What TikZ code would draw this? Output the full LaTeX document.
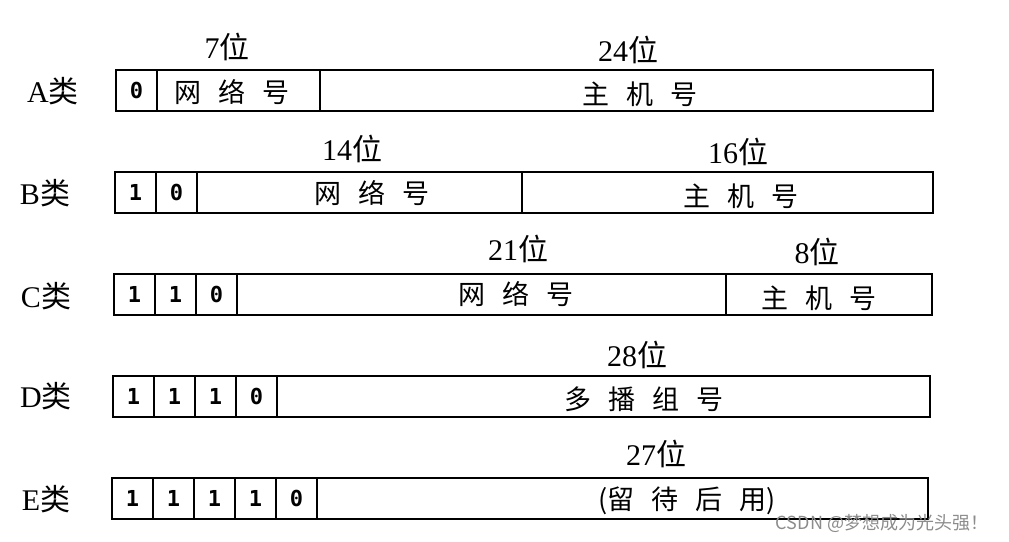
\documentclass[tikz,border=0pt]{standalone}
\usepackage{fontspec}
\usepackage{tikz}
\setmainfont{Liberation Serif}
\newfontfamily\cjk{Noto Sans CJK SC}
\newfontfamily\bitfont{DejaVu Sans Mono}
\newcommand{\lei}{{\cjk 类}}
\newcommand{\wei}{{\cjk 位}}
\newcommand{\cjkgap}{\hspace{0.62em}}
\tikzset{cell/.style={draw,line width=0.9pt,inner sep=0pt,outer sep=0pt,minimum height=20.5pt},
bit/.style={cell,minimum width=20.5pt,font=\bitfont\bfseries\fontsize{11}{12}\selectfont},
field/.style={cell,minimum width=#1},
fieldtext/.style={inner sep=0pt,font=\cjk\fontsize{13.5}{15}\selectfont},
cls/.style={inner sep=0pt,font=\fontsize{15}{18}\selectfont},
width/.style={inner sep=0pt,font=\fontsize{15}{18}\selectfont},
wm/.style={inner sep=0pt,text=black!45,font=\cjk\fontsize{9}{10}\selectfont}}

\begin{document}
\begin{tikzpicture}[x=0.5pt,y=-0.5pt]
\useasboundingbox (0,0) rectangle (1009,542);
% A
\node[cls] (clsA) at (53,91) {A\lei};
\node[bit] (a1) at (136.5,90.5) {0};
\node[field=81.5pt] (anet) at (238.5,90.5) {};
\node[field=306.5pt] (ahost) at (626.5,90.5) {};
\node[fieldtext] (anettxt) at (232,92) {网\cjkgap 络\cjkgap 号};
\node[fieldtext] (ahosttxt) at (640,94) {主\cjkgap 机\cjkgap 号};
\node[width] (anetw) at (227,47) {7\wei};
\node[width] (ahostw) at (628,50) {24\wei};
% B
\node[cls] (clsB) at (45,193) {B\lei};
\node[bit] (b1) at (135.5,192.5) {1};
\node[bit] (b2) at (176.5,192.5) {0};
\node[field=162.5pt] (bnet) at (359.5,192.5) {};
\node[field=205.5pt] (bhost) at (727.5,192.5) {};
\node[fieldtext] (bnettxt) at (372,193) {网\cjkgap 络\cjkgap 号};
\node[fieldtext] (bhosttxt) at (741,196) {主\cjkgap 机\cjkgap 号};
\node[width] (bnetw) at (352,149) {14\wei};
\node[width] (bhostw) at (738,152) {16\wei};
% C
\node[cls] (clsC) at (46,296) {C\lei};
\node[bit] (c1) at (134.5,294.5) {1};
\node[bit] (c2) at (175.5,294.5) {1};
\node[bit] (c3) at (216.5,294.5) {0};
\node[field=244.5pt] (cnet) at (481.5,294.5) {};
\node[field=103pt] (chost) at (829,294.5) {};
\node[fieldtext] (cnettxt) at (516,294) {网\cjkgap 络\cjkgap 号};
\node[fieldtext] (chosttxt) at (819,298) {主\cjkgap 机\cjkgap 号};
\node[width] (cnetw) at (518,249) {21\wei};
\node[width] (chostw) at (817,252) {8\wei};
% D
\node[cls] (clsD) at (46,396) {D\lei};
\node[bit] (d1) at (133.5,396.5) {1};
\node[bit] (d2) at (174.5,396.5) {1};
\node[bit] (d3) at (215.5,396.5) {1};
\node[bit] (d4) at (256.5,396.5) {0};
\node[field=326.5pt] (dgroup) at (603.5,396.5) {};
\node[fieldtext] (dgrouptxt) at (644,399) {多\cjkgap 播\cjkgap 组\cjkgap 号};
\node[width] (dgroupw) at (637,355) {28\wei};
% E
\node[cls] (clsE) at (46,499) {E\lei};
\node[bit] (e1) at (132.5,498.5) {1};
\node[bit] (e2) at (173.5,498.5) {1};
\node[bit] (e3) at (214.5,498.5) {1};
\node[bit] (e4) at (255.5,498.5) {1};
\node[bit] (e5) at (296.5,498.5) {0};
\node[field=305.5pt] (ereserved) at (622.5,498.5) {};
\node[fieldtext] (ereservedtxt) at (687,501) {(留\cjkgap 待\cjkgap 后\cjkgap 用)};
\node[width] (ereservedw) at (656,454) {27\wei};
% watermark
\node[wm] (mark) at (882,523) {CSDN @梦想成为光头强！};
\end{tikzpicture}
\end{document}
